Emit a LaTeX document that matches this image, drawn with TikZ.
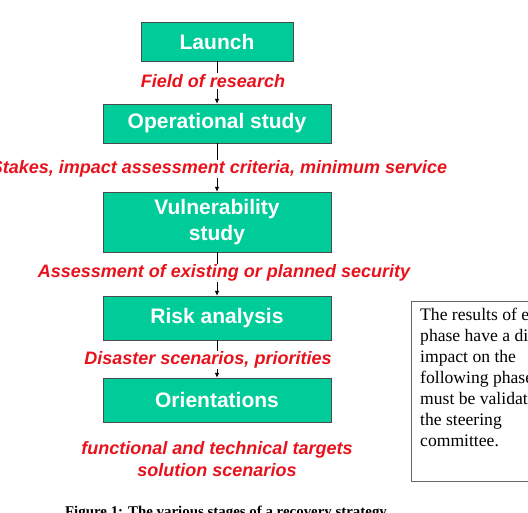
\documentclass[tikz,border=0pt]{standalone}
\usepackage{fontspec}
\setmainfont{Liberation Serif}
\newfontfamily\arialfont{Liberation Sans}
\usetikzlibrary{arrows.meta}
\definecolor{phasegreen}{RGB}{0,204,153}
\definecolor{outred}{RGB}{232,18,28}
\tikzset{
  phase/.style={draw=black!70, fill=phasegreen, text=white, inner sep=0pt, align=center,
    minimum width=228pt, minimum height=44pt,
    font=\arialfont\bfseries\fontsize{21}{26}\selectfont},
  output/.style={fill=white, text=outred, inner sep=1pt, align=center,
    font=\arialfont\bfseries\itshape\fontsize{18}{22}\selectfont},
  flow/.style={-{Latex[length=5pt,width=4.5pt]}, line width=0.8pt},
}
\begin{document}
\begin{tikzpicture}[x=1pt, y=-1pt]
  \useasboundingbox (0,0) rectangle (528,513);
  \clip (0,0) rectangle (528,513);
  % the phases
  \node[phase, minimum width=152pt, minimum height=39pt] (launch) at (217,41.5) {Launch};
  \node[phase, minimum height=39pt] (operational) at (217,123.5) {Operational study};
  \node[phase, minimum height=60pt] (vulnerability) at (217,222) {\raisebox{-3pt}{Vulnerability}\\\raisebox{-3pt}{study}};
  \node[phase] (risk) at (217,318) {Risk analysis};
  \node[phase] (orientations) at (217,400) {Orientations};
  % connectors
  \draw[flow] (launch) -- (operational);
  \draw[flow] (operational) -- (vulnerability);
  \draw[flow] (vulnerability) -- (risk);
  \draw[flow] (risk) -- (orientations);
  % outputs of each phase
  \node[output] (field) at (213,81) {Field of research};
  \node[output] (stakes) at (219,169) {Stakes, impact assessment criteria, minimum service};
  \node[output] (assess) at (224,273) {Assessment of existing or planned security};
  \node[output] (disaster) at (208,360) {Disaster scenarios, priorities};
  \node[output] (targets) at (217,459) {functional and technical targets\\solution scenarios};
  % note
  \draw[black!60, line width=0.8pt] (411,301) rectangle (600,481);
  \node[anchor=north west, align=left, inner sep=0pt, font=\fontsize{17.6}{21}\selectfont] (note) at (420,308)
    {The results of each\\phase have a direct\\impact on the\\following phases and\\must be validated by\\the steering\\committee.};
  % caption
  \node[anchor=base, inner sep=0pt, font=\bfseries\fontsize{14.9}{17}\selectfont] (caption) at (226,516)
    {Figure 1: The various stages of a recovery strategy};
\end{tikzpicture}
\end{document}
